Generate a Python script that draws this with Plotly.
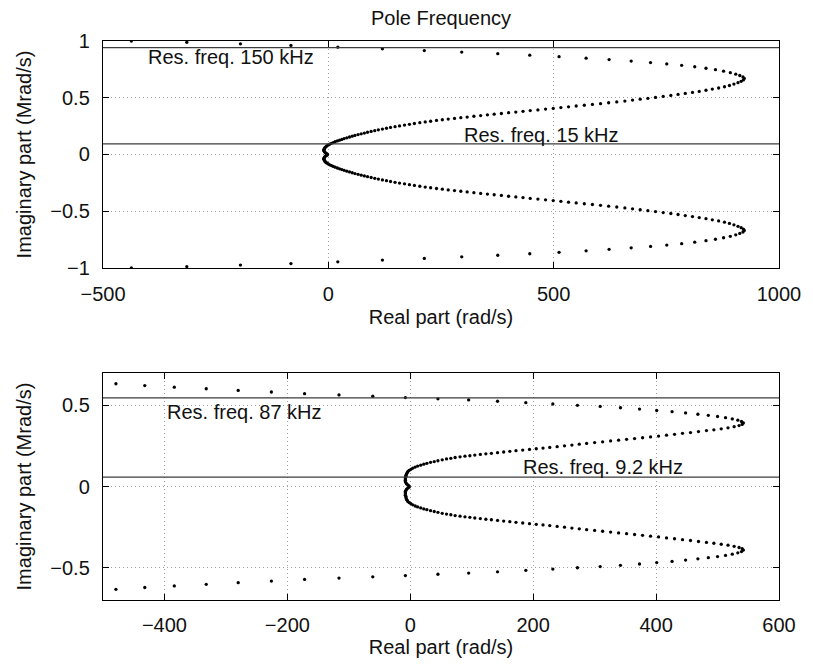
import plotly.graph_objects as go
from plotly.subplots import make_subplots

# ---- top plot: poles, resonance 15 kHz / 150 kHz ----
top_re = [-437, -314, -195, -83, 21, 120, 213, 296, 376, 447, 512, 572, 623, 672, 715, 751, 784, 813, 838, 859,
          877, 892, 904, 913, 920, 923,
          921, 916, 909, 900, 890, 879, 866, 852, 838, 823, 808, 792, 776, 760, 743, 726, 709, 692, 675, 658,
          640, 622, 604, 586, 568, 550, 533, 516, 499, 482, 465, 448, 432, 416, 400, 384, 368, 353, 338, 323,
          308, 294, 280, 266, 253, 240, 227, 215, 203, 191, 180, 169, 158, 148, 138, 129, 120, 111, 103, 95,
          87, 80, 73, 66, 59, 53, 47, 41, 35, 30, 25, 20, 15, 11, 7, 3, 0, -3, -5, -7,
          -8, -9, -10, -10, -9, -8, -6, -4, -2]
top_im_pos = [1.000, 0.988, 0.975, 0.961, 0.946, 0.931, 0.916, 0.902, 0.888, 0.875, 0.862, 0.849, 0.836, 0.823,
              0.810, 0.798, 0.786, 0.773, 0.760, 0.747, 0.734, 0.721, 0.708, 0.696, 0.683, 0.670,
              0.657, 0.645, 0.633, 0.620, 0.608, 0.597, 0.586, 0.576, 0.566, 0.556, 0.547, 0.538, 0.529, 0.520,
              0.512, 0.503, 0.495, 0.487, 0.479, 0.471, 0.463, 0.456, 0.448, 0.441, 0.434, 0.427, 0.420, 0.413,
              0.406, 0.400, 0.393, 0.387, 0.380, 0.374, 0.368, 0.361, 0.355, 0.349, 0.343, 0.337, 0.330, 0.324,
              0.318, 0.312, 0.306, 0.300, 0.293, 0.287, 0.280, 0.273, 0.266, 0.259, 0.252, 0.245, 0.238, 0.231,
              0.224, 0.217, 0.210, 0.203, 0.196, 0.189, 0.182, 0.175, 0.168, 0.161, 0.154, 0.147, 0.140, 0.133,
              0.126, 0.119, 0.112, 0.105, 0.098, 0.091, 0.084, 0.077, 0.070, 0.063, 0.056, 0.049, 0.042, 0.035,
              0.028, 0.021, 0.014, 0.008, 0.003]
top_im_neg = [-1.000, -0.988, -0.975, -0.961, -0.946, -0.931, -0.916, -0.902, -0.888, -0.875, -0.862, -0.849,
              -0.836, -0.823, -0.810, -0.798, -0.786, -0.773, -0.760, -0.747, -0.734, -0.721, -0.708, -0.696,
              -0.683, -0.670,
              -0.657, -0.645, -0.633, -0.620, -0.608, -0.597, -0.586, -0.576, -0.566, -0.556, -0.547, -0.538,
              -0.529, -0.520, -0.512, -0.503, -0.495, -0.487, -0.479, -0.471, -0.463, -0.456, -0.448, -0.441,
              -0.434, -0.427, -0.420, -0.413, -0.406, -0.400, -0.393, -0.387, -0.380, -0.374, -0.368, -0.361,
              -0.355, -0.349, -0.343, -0.337, -0.330, -0.324, -0.318, -0.312, -0.306, -0.300, -0.293, -0.287,
              -0.280, -0.273, -0.266, -0.259, -0.252, -0.245, -0.238, -0.231, -0.224, -0.217, -0.210, -0.203,
              -0.196, -0.189, -0.182, -0.175, -0.168, -0.161, -0.154, -0.147, -0.140, -0.133, -0.126, -0.119,
              -0.112, -0.105, -0.098, -0.091, -0.084, -0.077, -0.070, -0.063, -0.056, -0.049, -0.042, -0.035,
              -0.028, -0.021, -0.014, -0.008, -0.003]
top_res_lines = [0.942, 0.094]
top_res_labels = ["Res. freq. 150 kHz", "Res. freq. 15 kHz"]
top_label_pos = [(-400, 0.86), (302, 0.175)]

# ---- bottom plot: poles, resonance 9.2 kHz / 87 kHz ----
bot_re = [-479, -432, -384, -332, -280, -226, -172, -116, -61, -8, 45, 95, 142, 188, 232, 272, 309, 342, 373, 401,
          426, 448, 468, 485, 500, 513, 524, 533, 539, 542,
          540, 535, 527, 517, 506, 494, 482, 469, 456, 443, 430, 417, 404, 391, 378, 365, 352, 339, 326, 313,
          300, 287, 275, 263, 251, 239, 227, 216, 205, 194, 183, 172, 162, 152, 142, 132, 123, 114, 105, 97,
          89, 81, 73, 66, 59, 52, 45, 39, 33, 27, 22, 17, 12, 8, 4, 1, -2, -4, -5, -6,
          -7, -7, -8, -8, -8, -8, -7, -6, -4, -2]
bot_im_pos = [0.634, 0.623, 0.613, 0.603, 0.593, 0.583, 0.573, 0.565, 0.557, 0.549, 0.541, 0.534, 0.526, 0.517,
              0.509, 0.501, 0.494, 0.486, 0.478, 0.469, 0.462, 0.454, 0.446, 0.439, 0.432, 0.425, 0.417, 0.409,
              0.401, 0.392,
              0.383, 0.376, 0.369, 0.362, 0.356, 0.350, 0.345, 0.339, 0.333, 0.328, 0.322, 0.317, 0.311, 0.306,
              0.301, 0.296, 0.291, 0.286, 0.281, 0.276, 0.271, 0.266, 0.261, 0.256, 0.251, 0.246, 0.241, 0.237,
              0.233, 0.229, 0.225, 0.221, 0.217, 0.213, 0.209, 0.205, 0.202, 0.198, 0.194, 0.190, 0.187, 0.183,
              0.179, 0.174, 0.170, 0.165, 0.159, 0.154, 0.149, 0.143, 0.138, 0.132, 0.126, 0.120, 0.113, 0.106,
              0.099, 0.092, 0.085, 0.078, 0.070, 0.062, 0.054, 0.046, 0.038, 0.030, 0.023, 0.016, 0.010, 0.004]
bot_im_neg = [-0.634, -0.623, -0.613, -0.603, -0.593, -0.583, -0.573, -0.565, -0.557, -0.549, -0.541, -0.534,
              -0.526, -0.517, -0.509, -0.501, -0.494, -0.486, -0.478, -0.469, -0.462, -0.454, -0.446, -0.439,
              -0.432, -0.425, -0.417, -0.409, -0.401, -0.392,
              -0.383, -0.376, -0.369, -0.362, -0.356, -0.350, -0.345, -0.339, -0.333, -0.328, -0.322, -0.317,
              -0.311, -0.306, -0.301, -0.296, -0.291, -0.286, -0.281, -0.276, -0.271, -0.266, -0.261, -0.256,
              -0.251, -0.246, -0.241, -0.237, -0.233, -0.229, -0.225, -0.221, -0.217, -0.213, -0.209, -0.205,
              -0.202, -0.198, -0.194, -0.190, -0.187, -0.183, -0.179, -0.174, -0.170, -0.165, -0.159, -0.154,
              -0.149, -0.143, -0.138, -0.132, -0.126, -0.120, -0.113, -0.106, -0.099, -0.092, -0.085, -0.078,
              -0.070, -0.062, -0.054, -0.046, -0.038, -0.030, -0.023, -0.016, -0.010, -0.004]
bot_res_lines = [0.547, 0.058]
bot_res_labels = ["Res. freq. 87 kHz", "Res. freq. 9.2 kHz"]
bot_label_pos = [(-396, 0.458), (183, 0.118)]

FONT = "Liberation Sans, Arial, Helvetica, sans-serif"
FS = 20

# the page body adds an 8px offset, so the figure is 8px smaller and margins shifted
fig = make_subplots(rows=2, cols=1, vertical_spacing=0.188)

dot = dict(color="black", size=3.3)
for re_vals, im_vals, row in [(top_re, top_im_pos, 1), (top_re, top_im_neg, 1),
                              (bot_re, bot_im_pos, 2), (bot_re, bot_im_neg, 2)]:
    fig.add_trace(go.Scatter(x=re_vals, y=im_vals, mode="markers", marker=dot,
                             showlegend=False, hoverinfo="skip"), row=row, col=1)

for lines, labels, pos, row in [(top_res_lines, top_res_labels, top_label_pos, 1),
                                (bot_res_lines, bot_res_labels, bot_label_pos, 2)]:
    for yv in lines:
        fig.add_hline(y=yv, line=dict(color="#3c3c3c", width=1.3), row=row, col=1)
    for txt, (xp, yp) in zip(labels, pos):
        fig.add_annotation(x=xp, y=yp, text=txt, showarrow=False, xanchor="left", yanchor="middle",
                           xshift=-2, font=dict(family=FONT, size=FS, color="#111"), row=row, col=1)

axis_style = dict(showline=True, linecolor="black", linewidth=1.4, mirror="ticks",
                  ticks="inside", ticklen=6, tickcolor="black", tickwidth=1.2,
                  showgrid=True, gridcolor="#a0a0a0", griddash="1px,3px", gridwidth=1,
                  zeroline=False, tickfont=dict(family=FONT, size=FS, color="#111"),
                  title_font=dict(family=FONT, size=FS, color="#111"))

fig.update_xaxes(**axis_style)
fig.update_yaxes(**axis_style)

fig.update_xaxes(range=[-500, 1000], tickvals=[-500, 0, 500, 1000], ticklabelstandoff=8,
                 title_text="Real part (rad/s)", title_standoff=5, row=1, col=1)
fig.update_yaxes(range=[-1, 1], tickvals=[-1, -0.5, 0, 0.5, 1], ticklabelstandoff=8,
                 title_text="Imaginary part (Mrad/s)", title_standoff=13, row=1, col=1)
fig.update_xaxes(range=[-500, 600], tickvals=[-400, -200, 0, 200, 400, 600], ticklabelstandoff=7,
                 title_text="Real part (rad/s)", title_standoff=4, row=2, col=1)
fig.update_yaxes(range=[-0.7, 0.7], tickvals=[-0.5, 0, 0.5], ticklabelstandoff=8,
                 title_text="Imaginary part (Mrad/s)", title_standoff=13, row=2, col=1)

fig.update_layout(
    width=805, height=661,
    margin=dict(l=95, r=26, t=33, b=69),
    paper_bgcolor="white", plot_bgcolor="white",
    title=dict(text="Pole Frequency", xref="paper", x=0.5, xanchor="center", y=0.985, yanchor="middle",
               font=dict(family=FONT, size=FS, color="#111")),
)

fig.write_html("out.html")
